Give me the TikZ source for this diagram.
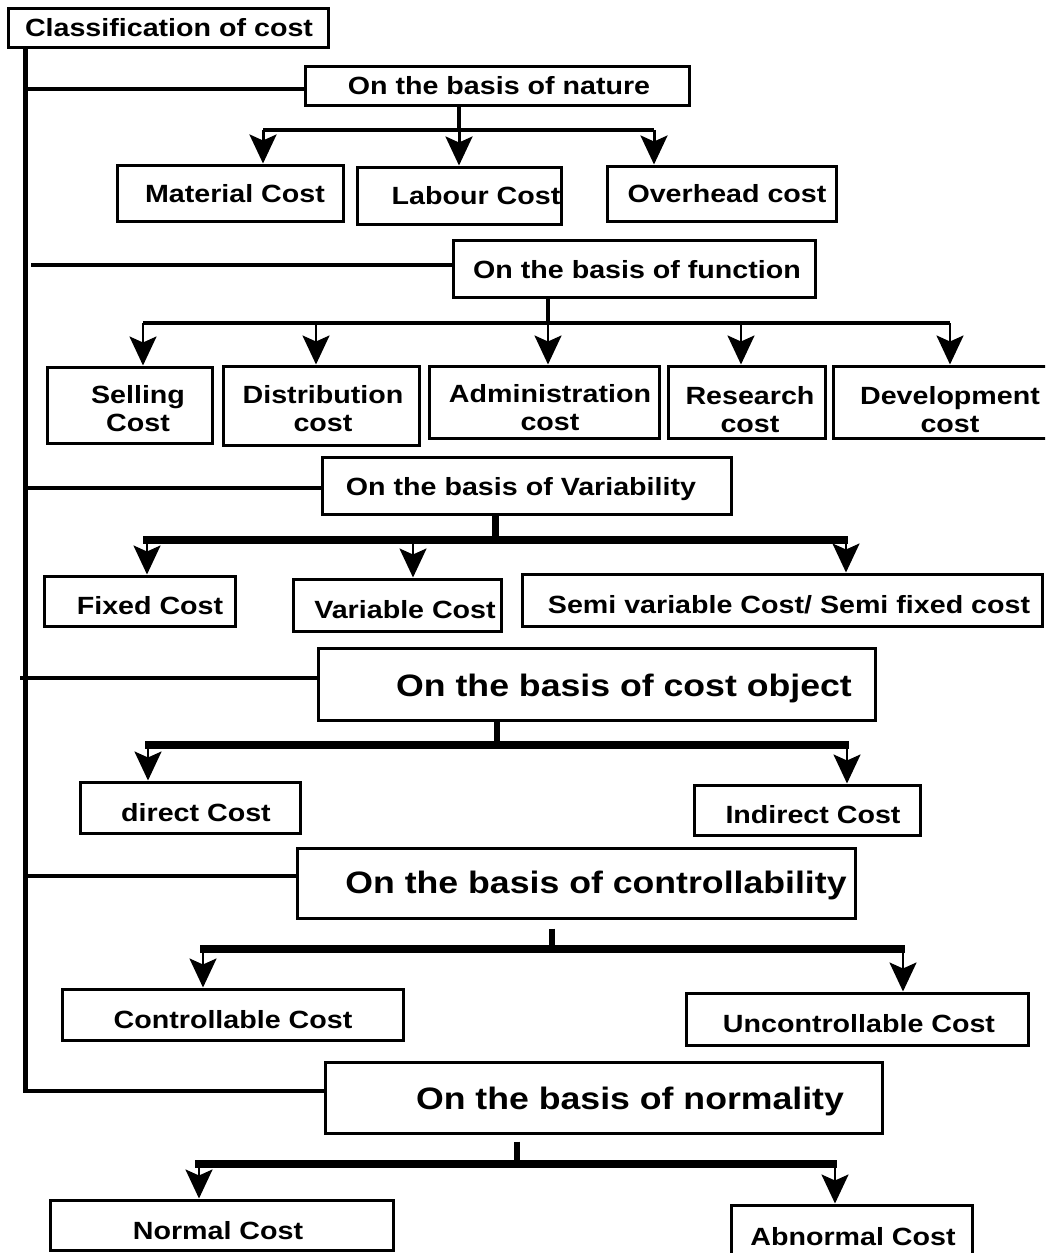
\documentclass[tikz,border=0pt]{standalone}
\usepackage{fontspec}
\setmainfont{Liberation Sans}[FakeStretch=1.15]
\usetikzlibrary{arrows.meta,fit}
\begin{document}
\begin{tikzpicture}[x=1pt,y=-1pt,
  box/.style={draw, line width=3pt, inner sep=0pt, rectangle},
  small/.style={font=\bfseries\fontsize{24.9}{28}\selectfont, inner sep=0pt, anchor=base},
  big/.style={font=\bfseries\fontsize{31}{34}\selectfont, inner sep=0pt, anchor=base},
  two/.style={font=\bfseries\fontsize{24.9}{28}\selectfont, inner sep=0pt, align=center},
  trunk/.style={line width=5pt},
  branch/.style={line width=3.5pt},
  bar/.style={line width=7.5pt},
  stub/.style={line width=5.5pt},
  arr/.style={line width=2.5pt, -{Stealth[length=29pt,width=27pt,inset=6pt]}},
]
\clip (0,0) rectangle (1045,1253);
\fill[white] (0,0) rectangle (1045,1253);

% ---------- boxes ----------
\node[box, fit={(8,8) (328,47)}] (cls) {};
\node[box, fit={(305,66) (689,105)}] (nat) {};
\node[box, fit={(117,165) (343,221)}] (mat) {};
\node[box, fit={(357,167) (561,224)}] (lab) {};
\node[box, fit={(607,166) (836,221)}] (ovh) {};
\node[box, fit={(453,240) (815,297)}] (fun) {};
\node[box, fit={(47,367) (212,443)}] (sel) {};
\node[box, fit={(223,366) (419,445)}] (dis) {};
\node[box, fit={(429,366) (659,438)}] (adm) {};
\node[box, fit={(668,366) (825,438)}] (res) {};
\node[box, fit={(833,366) (1060,438)}] (dev) {};
\node[box, fit={(322,457) (731,514)}] (var) {};
\node[box, fit={(44,576) (235,626)}] (fix) {};
\node[box, fit={(293,579) (501,631)}] (vrc) {};
\node[box, fit={(522,574) (1042,626)}] (sem) {};
\node[box, fit={(318,648) (875,720)}] (obj) {};
\node[box, fit={(80,782) (300,833)}] (dir) {};
\node[box, fit={(694,785) (920,835)}] (ind) {};
\node[box, fit={(297,848) (855,918)}] (ctl) {};
\node[box, fit={(62,989) (403,1040)}] (cc) {};
\node[box, fit={(686,993) (1028,1045)}] (uc) {};
\node[box, fit={(325,1062) (882,1133)}] (nrm) {};
\node[box, fit={(50,1200) (393,1250)}] (nc) {};
\node[box, fit={(731,1205) (972,1270)}] (ab) {};

% ---------- texts ----------
\node[small] (cls-t) at (169,36) {Classification of cost};
\node[small] (nat-t) at (499,94) {On the basis of nature};
\node[small] (mat-t) at (235,202) {Material Cost};
\node[small] (lab-t) at (476,204) {Labour Cost};
\node[small] (ovh-t) at (727,202) {Overhead cost};
\node[small] (fun-t) at (637,278) {On the basis of function};
\node[two] (sel-t) at (138,409) {Selling\\Cost};
\node[two] (dis-t) at (323,409) {Distribution\\cost};
\node[two] (adm-t) at (550,408) {Administration\\cost};
\node[two] (res-t) at (750,410) {Research\\cost};
\node[two] (dev-t) at (950,410) {Development\\cost};
\node[small] (var-t) at (521,495) {On the basis of Variability};
\node[small] (fix-t) at (150,614) {Fixed Cost};
\node[small] (vrc-t) at (405,618) {Variable Cost};
\node[small] (sem-t) at (789,613) {Semi variable Cost/ Semi fixed cost};
\node[big] (obj-t) at (624,696) {On the basis of cost object};
\node[small] (dir-t) at (196,821) {direct Cost};
\node[small] (ind-t) at (813,823) {Indirect Cost};
\node[big] (ctl-t) at (596,893) {On the basis of controllability};
\node[small] (cc-t) at (233,1028) {Controllable Cost};
\node[small] (uc-t) at (859,1032) {Uncontrollable Cost};
\node[big] (nrm-t) at (630,1109) {On the basis of normality};
\node[small] (nc-t) at (218,1239) {Normal Cost};
\node[small] (ab-t) at (853,1245) {Abnormal Cost};

% ---------- trunk and branches ----------
\coordinate (t0) at (25,47);
\coordinate (t1) at (25,1092);
\draw[trunk] (t0) -- (t1);
\coordinate (j1) at (25,89);
\coordinate (j2) at (31,265);
\coordinate (j3) at (25,488);
\coordinate (j4) at (20,678);
\coordinate (j5) at (25,876);
\coordinate (j6) at (23,1091);
\draw[branch] (j1) -- (j1 -| nat.west);
\draw[branch] (j2) -- (j2 -| fun.west);
\draw[branch] (j3) -- (j3 -| var.west);
\draw[branch] (j4) -- (j4 -| obj.west);
\draw[branch] (j5) -- (j5 -| ctl.west);
\draw[branch] (j6) -- (j6 -| nrm.west);

% ---------- nature ----------
\coordinate (a0) at (459,130);
\coordinate (a1) at (263,130);
\coordinate (a3) at (654,130);
\draw[branch] (a0 |- nat.south) -- (a0);
\draw[branch] (a1) -- (a3);
\draw[arr, line width=3pt] (a1) -- (a1 |- mat.north);
\draw[arr, line width=3pt] (a0) -- (a0 |- lab.north);
\draw[arr, line width=3pt] (a3) -- (a3 |- ovh.north);

% ---------- function ----------
\coordinate (b0) at (548,323);
\coordinate (b1) at (143,323);
\coordinate (b2) at (316,323);
\coordinate (b4) at (741,323);
\coordinate (b5) at (950,323);
\draw[branch] (b0 |- fun.south) -- (b0);
\draw[branch, line width=4pt] (b1) -- (b5);
\draw[arr] (b1) -- (b1 |- sel.north);
\draw[arr] (b2) -- (b2 |- dis.north);
\draw[arr] (b0) -- (b0 |- adm.north);
\draw[arr] (b4) -- (b4 |- res.north);
\draw[arr] (b5) -- (b5 |- dev.north);

% ---------- variability ----------
\coordinate (c0) at (495,540);
\coordinate (c1) at (147,540);
\coordinate (c2) at (413,540);
\coordinate (c3) at (846,540);
\draw[stub, line width=7pt] (c0 |- var.south) -- (c0);
\draw[bar] ([xshift=-4pt]c1) -- ([xshift=2pt]c3);
\draw[arr] (c1) -- (c1 |- fix.north);
\draw[arr] (c2) -- (c2 |- vrc.north);
\draw[arr] (c3) -- (c3 |- sem.north);

% ---------- cost object ----------
\coordinate (d0) at (497,745);
\coordinate (d1) at (148,745);
\coordinate (d2) at (847,745);
\draw[stub] (d0 |- obj.south) -- (d0);
\draw[bar] ([xshift=-3pt]d1) -- ([xshift=2pt]d2);
\draw[arr] (d1) -- (d1 |- dir.north);
\draw[arr] (d2) -- (d2 |- ind.north);

% ---------- controllability ----------
\coordinate (e0) at (552,949);
\coordinate (e1) at (203,949);
\coordinate (e2) at (903,949);
\draw[stub] ([yshift=-9pt]e0 |- ctl.south) -- (e0);
\draw[bar] ([xshift=-3pt]e1) -- ([xshift=2pt]e2);
\draw[arr] (e1) -- (e1 |- cc.north);
\draw[arr] (e2) -- (e2 |- uc.north);

% ---------- normality ----------
\coordinate (f0) at (517,1164);
\coordinate (f1) at (199,1164);
\coordinate (f2) at (835,1164);
\draw[stub] ([yshift=-7pt]f0 |- nrm.south) -- (f0);
\draw[bar] ([xshift=-4pt]f1) -- ([xshift=2pt]f2);
\draw[arr] (f1) -- (f1 |- nc.north);
\draw[arr] (f2) -- (f2 |- ab.north);
\end{tikzpicture}
\end{document}
